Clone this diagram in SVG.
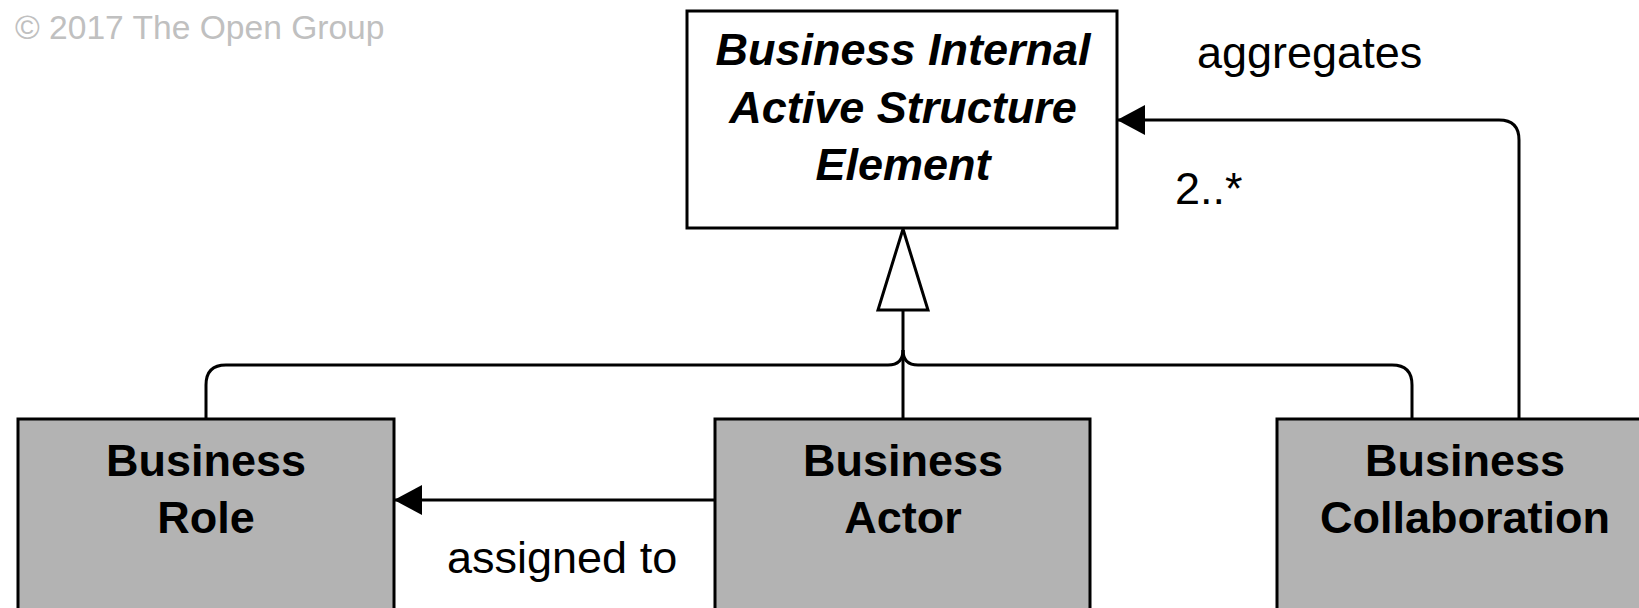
<svg xmlns="http://www.w3.org/2000/svg" width="1639" height="608" viewBox="0 0 1639 608">
<style>
.box{stroke:#000;stroke-width:3}
.top{fill:#fff}
.gray{fill:#b3b3b3}
.t{font-family:"Liberation Sans",Arial,sans-serif;font-size:45px;text-anchor:middle;fill:#000}
.b{font-weight:bold}
.bi{font-weight:bold;font-style:italic}
.lbl{font-family:"Liberation Sans",Arial,sans-serif;font-size:45px;fill:#000}
.line{fill:none;stroke:#000;stroke-width:3}
</style>
<defs>
<marker id="fill" viewBox="0 0 28 30" refX="28" refY="15" markerWidth="28" markerHeight="30" markerUnits="userSpaceOnUse" orient="auto">
<path d="M0,0 L28,15 L0,30 Z" fill="#000"/>
</marker>
</defs>
<rect width="1639" height="608" fill="#fff"/>
<text x="15" y="39" font-family="'Liberation Sans',Arial,sans-serif" font-size="33.6" fill="#c0c0c0">© 2017 The Open Group</text>
<g id="connectors">
<path class="line" d="M206,418 V385 Q206,365 226,365 H888 Q903,365 903,350"/>
<path class="line" d="M1412,418 V385 Q1412,365 1392,365 H918 Q903,365 903,350"/>
<path class="line" d="M903,418 V310"/>
<path d="M903,229 L928,310 L878,310 Z" fill="#fff" stroke="#000" stroke-width="3" stroke-linejoin="miter"/>
<path class="line" d="M1519,418 V140 Q1519,120 1499,120 H1117" marker-end="url(#fill)"/>
<path class="line" d="M715,500 H394" marker-end="url(#fill)"/>
<text class="lbl" x="1197" y="68">aggregates</text>
<text class="lbl" x="1175" y="204">2..*</text>
<text class="lbl" x="447" y="573">assigned to</text>
</g>
<g id="internal">
<rect class="box top" x="687" y="11" width="430" height="217"/>
<text class="t bi" x="903" y="65">Business Internal</text>
<text class="t bi" x="903" y="123">Active Structure</text>
<text class="t bi" x="903" y="180">Element</text>
</g>
<g id="role">
<rect class="box gray" x="18" y="419" width="376" height="200"/>
<text class="t b" x="206" y="476">Business</text>
<text class="t b" x="206" y="533">Role</text>
</g>
<g id="actor">
<rect class="box gray" x="715" y="419" width="375" height="200"/>
<text class="t b" x="903" y="476">Business</text>
<text class="t b" x="903" y="533">Actor</text>
</g>
<g id="collaboration">
<rect class="box gray" x="1277" y="419" width="380" height="200"/>
<text class="t b" x="1465" y="476">Business</text>
<text class="t b" x="1465" y="533">Collaboration</text>
</g>
</svg>
